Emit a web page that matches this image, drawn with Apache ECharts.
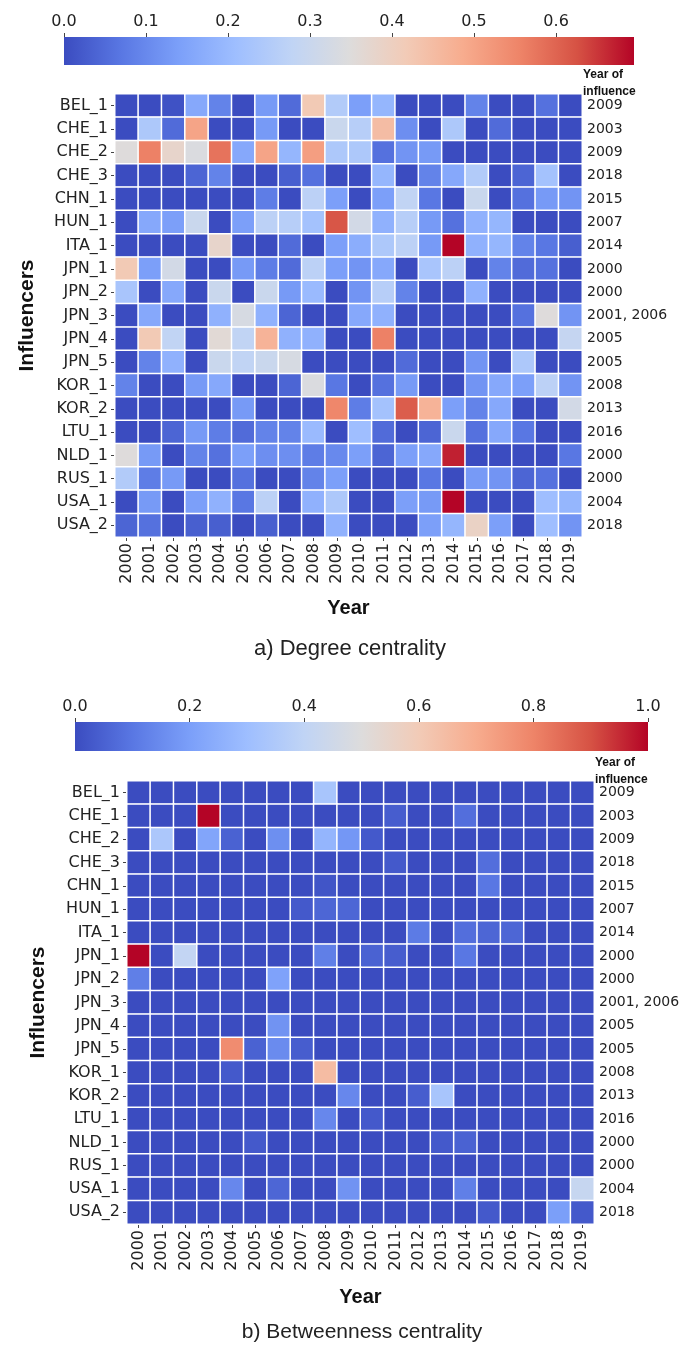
<!DOCTYPE html>
<html><head><meta charset="utf-8">
<script src="https://cdn.jsdelivr.net/npm/echarts@6/dist/echarts.min.js"></script>
<style>html,body{margin:0;padding:0;background:#fff}#c{width:689px;height:1346px}</style>
</head><body><div id="c"></div>
<script>
const years = ['2000','2001','2002','2003','2004','2005','2006','2007','2008','2009','2010','2011','2012','2013','2014','2015','2016','2017','2018','2019'];
const influencers = ['BEL_1','CHE_1','CHE_2','CHE_3','CHN_1','HUN_1','ITA_1','JPN_1','JPN_2','JPN_3','JPN_4','JPN_5','KOR_1','KOR_2','LTU_1','NLD_1','RUS_1','USA_1','USA_2'];
const yearOfInfluence = ['2009','2003','2009','2018','2015','2007','2014','2000','2000','2001, 2006','2005','2005','2008','2013','2016','2000','2000','2004','2018'];
const degreeTicks = [0,0.1,0.2,0.3,0.4,0.5,0.6];
const betweenTicks = [0,0.2,0.4,0.6,0.8,1.0];
const degreeMax = 0.695;
const betweenMax = 1.0;

// Degree centrality, one array per influencer (2000..2019)
const degree = [
 [0,0,0.01,0.16,0.09,0,0.13,0.05,0.42,0.25,0.14,0.19,0,0,0,0.09,0,0,0.06,0],
 [0,0.24,0.05,0.5,0,0,0.13,0,0,0.3,0.26,0.45,0.11,0,0.24,0,0.05,0,0,0],
 [0.35,0.56,0.38,0.34,0.58,0.16,0.5,0.19,0.51,0.24,0.24,0.06,0.12,0.13,0,0,0,0,0,0],
 [0,0,0,0.04,0.09,0,0,0.03,0.06,0,0,0.19,0,0.09,0.16,0.25,0,0.04,0.22,0],
 [0,0,0,0,0,0,0.08,0,0.27,0.14,0,0.14,0.28,0.07,0,0.3,0,0.06,0.13,0.12],
 [0,0.16,0.14,0.3,0,0.14,0.27,0.26,0.22,0.62,0.32,0.18,0.26,0.13,0.06,0.18,0.19,0,0,0],
 [0,0,0,0,0.38,0,0,0.05,0,0.14,0.17,0.24,0.27,0.13,0.7,0.18,0.19,0.09,0.07,0.03],
 [0.42,0.14,0.32,0,0,0.13,0.08,0.05,0.27,0.14,0.12,0.16,0,0.23,0.27,0,0.09,0.05,0.06,0],
 [0.23,0,0.16,0,0.3,0,0.3,0.13,0.2,0,0.12,0.26,0.09,0,0,0.18,0,0,0,0],
 [0,0.16,0,0,0.18,0.33,0.18,0.04,0,0,0.16,0.18,0,0,0,0,0,0.06,0.35,0.12],
 [0,0.42,0.28,0,0.36,0.28,0.47,0.18,0.18,0,0,0.56,0,0,0,0,0,0,0,0.29],
 [0,0.09,0.18,0,0.3,0.28,0.3,0.33,0,0,0,0,0.05,0,0,0.12,0,0.24,0,0],
 [0.09,0,0,0.13,0.16,0,0,0.04,0.34,0.07,0,0.06,0.13,0,0,0.12,0.16,0.14,0.27,0.12],
 [0,0,0,0,0,0.13,0,0,0,0.55,0.08,0.22,0.61,0.47,0.14,0.09,0.16,0,0,0.32],
 [0,0,0.04,0.13,0.08,0.05,0.09,0.09,0.2,0,0.21,0.05,0,0.04,0.3,0.06,0.16,0.07,0,0],
 [0.35,0.13,0,0.09,0.06,0.14,0.11,0.11,0.08,0.1,0.14,0.04,0.14,0.16,0.67,0,0,0,0,0.07],
 [0.25,0.08,0.13,0,0,0.06,0,0,0.09,0.14,0,0,0,0.07,0,0.13,0.12,0.04,0.06,0],
 [0,0.13,0,0.14,0.18,0.07,0.27,0,0.18,0.24,0,0,0.14,0.13,0.7,0,0,0,0.21,0.19],
 [0.04,0.06,0,0.03,0.03,0,0.03,0,0,0.18,0,0,0,0.14,0.19,0.39,0.14,0,0.21,0.12]
];

// Betweenness centrality
const betweenness = [
 [0,0,0,0,0,0,0,0,0.33,0,0,0,0,0,0,0,0,0,0,0],
 [0,0,0,1.0,0,0,0,0,0,0,0,0.04,0,0,0.08,0,0,0,0,0],
 [0,0.34,0,0.22,0.05,0,0.16,0,0.27,0.18,0.03,0,0,0,0,0,0,0,0,0],
 [0,0,0,0,0,0,0,0,0,0,0,0.03,0,0,0,0.08,0,0,0,0],
 [0,0,0,0,0,0,0,0,0.02,0,0,0,0,0,0,0.1,0,0,0,0],
 [0,0,0,0,0,0,0,0.03,0.06,0.06,0,0,0,0,0,0,0,0,0,0],
 [0,0,0,0,0,0,0,0,0,0,0,0,0.11,0,0.08,0.06,0.06,0,0,0],
 [1.0,0,0.41,0,0,0,0,0,0.12,0,0.05,0.04,0,0,0.1,0,0,0,0,0],
 [0.12,0,0,0,0,0,0.21,0,0,0,0,0,0,0,0,0,0,0,0,0],
 [0,0,0,0,0,0,0,0,0,0,0,0,0,0,0,0,0,0,0,0],
 [0,0,0,0,0,0,0.17,0,0,0,0,0,0,0,0,0,0,0,0,0],
 [0,0,0,0,0.78,0.05,0.15,0.04,0,0,0,0,0,0,0,0,0,0,0,0],
 [0,0,0,0,0.03,0,0,0,0.65,0,0,0,0,0,0,0,0,0,0,0],
 [0,0,0,0,0,0,0,0,0,0.14,0,0,0.04,0.33,0,0,0,0,0,0],
 [0,0,0,0,0,0,0,0,0.14,0,0.03,0,0,0,0,0,0,0,0,0],
 [0,0,0,0,0,0.03,0,0,0,0,0,0,0,0.03,0.05,0,0,0,0,0],
 [0,0,0,0,0,0,0,0,0,0,0,0,0,0,0,0,0,0,0,0],
 [0,0,0,0,0.14,0,0.06,0,0,0.17,0,0,0,0,0.12,0,0,0,0,0.42],
 [0,0,0,0,0,0,0,0,0,0,0,0,0,0,0,0.03,0,0,0.2,0.03]
];

const coolwarm = ['#3b4cc0','#5977e3','#7b9ff9','#9ebeff','#c0d4f5','#dddcdc','#f2cbb7','#f7ac8e','#ee8468','#d65244','#b40426'];
const gradient = {type:'linear',x:0,y:0,x2:1,y2:0,colorStops:coolwarm.map((c,i)=>({offset:i/10,color:c}))};

function toCells(m){const out=[];m.forEach((row,r)=>row.forEach((v,c)=>out.push([c,r,v])));return out;}

const FONT = 'DejaVu Sans';
const TXT = '#222';

function heatAxes(gi){
  return {
    x: {type:'category',gridIndex:gi,data:years,position:'bottom',
        axisLine:{show:false},axisTick:{show:true,length:4,alignWithLabel:true,lineStyle:{color:'#444'}},
        axisLabel:{rotate:90,fontSize:16,fontFamily:FONT,color:TXT,margin:6},
        splitLine:{show:false},
        name:'Year',nameLocation:'middle',nameGap:61,
        nameTextStyle:{fontSize:20,fontWeight:'bold',fontFamily:'Liberation Sans',color:'#111'}},
    y: {type:'category',gridIndex:gi,data:influencers,inverse:true,
        axisLine:{show:false},axisTick:{show:true,length:4,alignWithLabel:true,lineStyle:{color:'#444'}},
        axisLabel:{fontSize:16,fontFamily:FONT,color:TXT,margin:7},
        name:'Influencers',nameLocation:'middle',nameGap:77,nameRotate:90,
        nameTextStyle:{fontSize:21,fontWeight:'bold',fontFamily:'Liberation Sans',color:'#111'}},
    yr: {type:'category',gridIndex:gi,data:yearOfInfluence,inverse:true,position:'right',
        axisLine:{show:false},axisTick:{show:false},
        axisLabel:{fontSize:14,fontFamily:FONT,color:TXT,margin:5}}
  };
}
const a1 = heatAxes(1), a2 = heatAxes(3);
a2.y.nameGap = 78; a2.x.nameGap = 63;

function cbAxis(gi, max, ticks){
  return {type:'value',gridIndex:gi,min:0,max:max,position:'top',
    axisLine:{show:false},
    axisTick:{show:true,length:4,lineStyle:{color:'#444'},customValues:ticks},
    axisLabel:{fontSize:16,fontFamily:FONT,color:TXT,margin:7,customValues:ticks,formatter:v=>v.toFixed(1)},
    splitLine:{show:false}};
}

const option = {
  animation:false,
  backgroundColor:'#fff',
  grid:[
    {left:64,top:37,width:570,height:28},
    {left:115,top:94,width:467,height:443},
    {left:75,top:722,width:573,height:29},
    {left:127,top:781,width:467,height:443}
  ],
  xAxis:[cbAxis(0,degreeMax,degreeTicks), a1.x, cbAxis(2,betweenMax,betweenTicks), a2.x],
  yAxis:[
    {type:'category',gridIndex:0,data:['cb'],show:false},
    a1.y, a1.yr,
    {type:'category',gridIndex:2,data:['cb'],show:false},
    a2.y, a2.yr
  ],
  visualMap:[
    {type:'continuous',show:false,min:0,max:degreeMax,dimension:2,seriesIndex:1,inRange:{color:coolwarm}},
    {type:'continuous',show:false,min:0,max:betweenMax,dimension:2,seriesIndex:3,inRange:{color:coolwarm}}
  ],
  series:[
    {type:'bar',xAxisIndex:0,yAxisIndex:0,data:[degreeMax],barWidth:'100%',itemStyle:{color:gradient},silent:true},
    {type:'heatmap',xAxisIndex:1,yAxisIndex:1,data:toCells(degree),
     itemStyle:{borderColor:'#fff',borderWidth:1.5},emphasis:{disabled:true}},
    {type:'bar',xAxisIndex:2,yAxisIndex:3,data:[betweenMax],barWidth:'100%',itemStyle:{color:gradient},silent:true},
    {type:'heatmap',xAxisIndex:3,yAxisIndex:4,data:toCells(betweenness),
     itemStyle:{borderColor:'#fff',borderWidth:1.5},emphasis:{disabled:true}}
  ],
  title:[
    {text:'a) Degree centrality',left:350,top:638,padding:0,textAlign:'center',
     textStyle:{fontSize:22,fontWeight:'normal',fontFamily:'Liberation Sans',color:'#222'}},
    {text:'b) Betweenness centrality',left:362,top:1322,padding:0,textAlign:'center',
     textStyle:{fontSize:21,fontWeight:'normal',fontFamily:'Liberation Sans',color:'#222'}}
  ],
  graphic:[
    {type:'text',left:583,top:66,style:{text:'Year of\ninfluence',font:'bold 12px "Liberation Sans"',fill:'#111',lineHeight:17}},
    {type:'text',left:595,top:754,style:{text:'Year of\ninfluence',font:'bold 12px "Liberation Sans"',fill:'#111',lineHeight:17}}
  ]
};
const chart = echarts.init(document.getElementById('c'),null,{renderer:'canvas'});
chart.setOption(option);
</script></body></html>
